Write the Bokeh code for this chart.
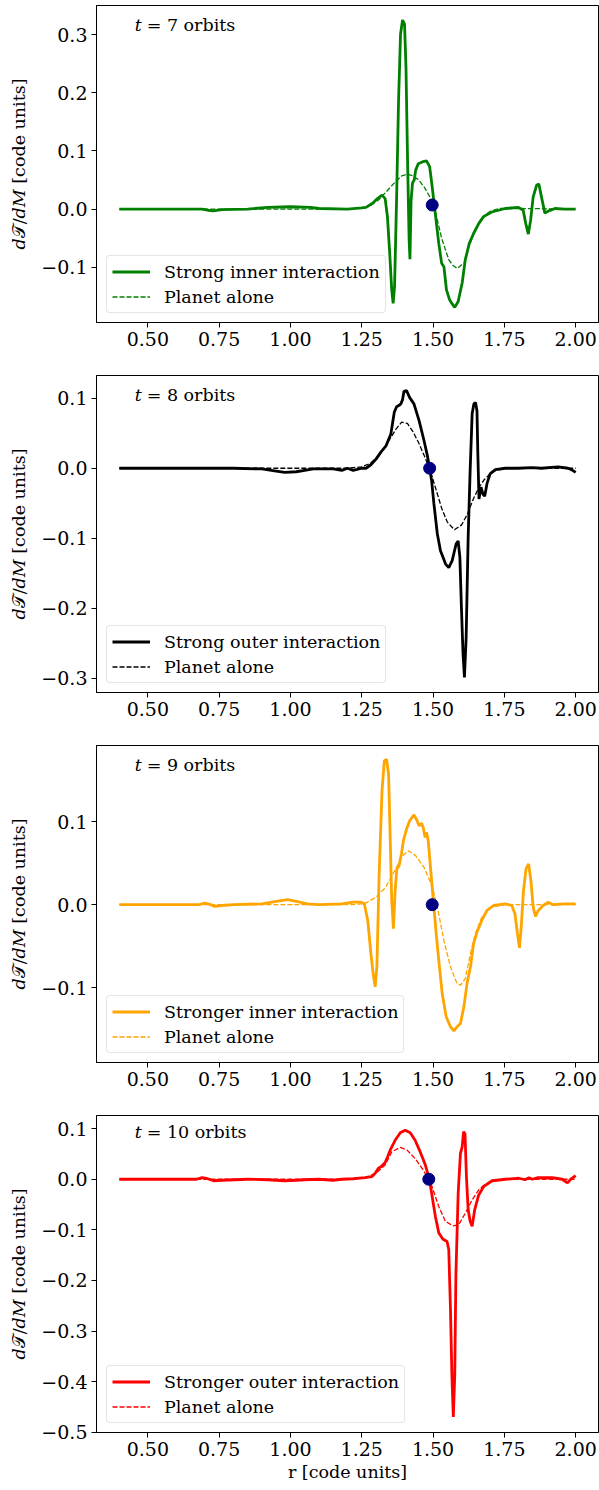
import numpy as np
from bokeh.plotting import figure
from bokeh.layouts import column
from bokeh.models import (FixedTicker, CustomJSTickFormatter, Legend, LegendItem,
                          Label, Range1d)
from bokeh.embed import file_html
from bokeh.resources import INLINE

FONT = "DejaVu Serif"

# ---------------- data ----------------
r_lo, r_hi = 0.32, 2.08
x_ticks = [0.5, 0.75, 1.0, 1.25, 1.5, 1.75, 2.0]

# t = 7 orbits : strong inner interaction
r7 = [0.40, 0.50, 0.60, 0.69, 0.71, 0.73, 0.76, 0.85, 0.92, 1.00, 1.07, 1.10, 1.20, 1.25,
      1.265, 1.288, 1.305, 1.321, 1.332, 1.340, 1.348, 1.355, 1.360, 1.365, 1.372, 1.379,
      1.386, 1.393, 1.400, 1.405, 1.411, 1.416, 1.419, 1.423, 1.428, 1.434, 1.439, 1.448,
      1.462, 1.477, 1.488, 1.497, 1.509, 1.520, 1.530, 1.538, 1.547, 1.558, 1.567, 1.576,
      1.588, 1.602, 1.613, 1.627, 1.642, 1.660, 1.677, 1.706, 1.753, 1.799, 1.816, 1.825,
      1.834, 1.842, 1.851, 1.863, 1.871, 1.880, 1.892, 1.906, 1.927, 1.962, 2.000]
dT7 = [0.000, 0.000, 0.000, 0.000, -0.002, -0.003, -0.001, 0.000, 0.003, 0.004, 0.003, 0.001, 0.000, 0.002,
       0.003, 0.010, 0.018, 0.024, 0.018, -0.013, -0.076, -0.139, -0.162, -0.133, 0.015, 0.187,
       0.301, 0.325, 0.318, 0.244, 0.073, -0.053, -0.086, 0.015, 0.045, 0.050, 0.067, 0.078,
       0.081, 0.083, 0.073, 0.038, -0.013, -0.059, -0.093, -0.099, -0.139, -0.156, -0.163, -0.169,
       -0.159, -0.127, -0.087, -0.059, -0.042, -0.025, -0.013, -0.005, 0.001, 0.003, -0.002, -0.025,
       -0.043, -0.019, 0.021, 0.041, 0.043, 0.021, -0.007, -0.003, 0.001, 0.000, 0.000]
rp7 = [0.40, 1.20, 1.25, 1.28, 1.31, 1.34, 1.37, 1.39, 1.41, 1.43, 1.45, 1.47, 1.49, 1.51,
       1.53, 1.555, 1.57, 1.585, 1.61, 1.625, 1.648, 1.665, 1.683, 1.70, 1.73, 1.80, 2.00]
pa7 = [0.0, 0.0, 0.002, 0.006, 0.016, 0.032, 0.048, 0.057, 0.060, 0.057, 0.050, 0.037, 0.020, -0.008,
       -0.050, -0.087, -0.097, -0.102, -0.092, -0.065, -0.036, -0.020, -0.010, -0.004, 0.001, 0.001, 0.0]

# t = 8 orbits : strong outer interaction
r8 = [0.40, 0.60, 0.80, 0.90, 0.95, 0.98, 1.02, 1.05, 1.08, 1.15, 1.18, 1.20, 1.22, 1.25,
      1.265, 1.282, 1.300, 1.317, 1.335, 1.352, 1.364, 1.372, 1.381, 1.387, 1.393, 1.398,
      1.407, 1.418, 1.433, 1.451, 1.468, 1.480, 1.488, 1.495, 1.503, 1.515, 1.526, 1.544,
      1.555, 1.567, 1.581, 1.588, 1.594, 1.599, 1.605, 1.610, 1.616, 1.623, 1.630, 1.637,
      1.643, 1.649, 1.654, 1.657, 1.661, 1.668, 1.675, 1.681, 1.689, 1.700, 1.718, 1.753,
      1.799, 1.846, 1.880, 1.939, 1.973, 1.985, 2.000]
dT8 = [0.000, 0.000, 0.000, -0.001, -0.004, -0.006, -0.005, -0.003, -0.001, -0.001, -0.003, 0.000, -0.003, 0.000,
       0.000, 0.005, 0.013, 0.023, 0.032, 0.049, 0.080, 0.088, 0.090, 0.092, 0.098, 0.110,
       0.111, 0.101, 0.092, 0.068, 0.040, 0.018, 0.000, -0.018, -0.051, -0.094, -0.118, -0.137,
       -0.142, -0.132, -0.108, -0.104, -0.127, -0.194, -0.265, -0.299, -0.242, -0.099, -0.003, 0.078,
       0.092, 0.094, 0.082, 0.020, -0.044, -0.027, -0.037, -0.040, -0.022, -0.008, -0.002, 0.000,
       0.000, 0.001, 0.000, 0.002, 0.000, -0.002, -0.006]
rp8 = [0.40, 1.20, 1.25, 1.28, 1.31, 1.34, 1.37, 1.39, 1.41, 1.43, 1.45, 1.47, 1.49, 1.51,
       1.53, 1.55, 1.575, 1.60, 1.62, 1.64, 1.66, 1.68, 1.70, 1.72, 1.76, 2.00]
pa8 = [0.0, 0.0, 0.002, 0.007, 0.018, 0.036, 0.056, 0.066, 0.064, 0.052, 0.036, 0.017, -0.003, -0.030,
       -0.057, -0.077, -0.088, -0.081, -0.066, -0.045, -0.028, -0.016, -0.008, -0.003, 0.0, 0.0]

# t = 9 orbits : stronger inner interaction
r9 = [0.40, 0.60, 0.68, 0.70, 0.72, 0.735, 0.76, 0.80, 0.90, 0.95, 0.99, 1.02, 1.06, 1.10, 1.18, 1.22,
      1.247, 1.259, 1.271, 1.282, 1.290, 1.297, 1.303, 1.311, 1.321, 1.329, 1.337, 1.344,
      1.350, 1.355, 1.361, 1.367, 1.373, 1.381, 1.389, 1.396, 1.407, 1.418, 1.433, 1.443,
      1.451, 1.460, 1.466, 1.472, 1.477, 1.483, 1.491, 1.501, 1.511, 1.520, 1.532, 1.546,
      1.561, 1.573, 1.584, 1.596, 1.608, 1.619, 1.631, 1.642, 1.654, 1.671, 1.689, 1.712,
      1.753, 1.776, 1.787, 1.796, 1.803, 1.809, 1.817, 1.826, 1.835, 1.843, 1.851, 1.859,
      1.869, 1.886, 1.904, 1.921, 1.962, 2.000]
dT9 = [0.000, 0.000, 0.000, 0.002, 0.000, -0.002, -0.001, 0.000, 0.001, 0.004, 0.006, 0.004, 0.001, 0.000, 0.001, 0.003,
       0.003, 0.001, -0.019, -0.059, -0.083, -0.099, -0.075, 0.037, 0.137, 0.173, 0.175, 0.157,
       0.077, 0.005, -0.029, 0.017, 0.043, 0.047, 0.061, 0.077, 0.091, 0.101, 0.108, 0.102,
       0.095, 0.098, 0.092, 0.081, 0.087, 0.077, 0.045, 0.005, -0.035, -0.067, -0.107, -0.135,
       -0.147, -0.152, -0.147, -0.143, -0.123, -0.095, -0.075, -0.047, -0.033, -0.019, -0.007, -0.001,
       0.001, -0.001, -0.011, -0.035, -0.052, -0.027, 0.017, 0.043, 0.049, 0.029, -0.003, -0.014,
       -0.007, -0.001, 0.003, 0.000, 0.001, 0.001]
rp9 = [0.40, 1.20, 1.259, 1.30, 1.334, 1.369, 1.393, 1.414, 1.439, 1.468, 1.497, 1.515, 1.538,
       1.561, 1.584, 1.596, 1.613, 1.631, 1.648, 1.671, 1.706, 1.75, 2.00]
pa9 = [0.0, 0.0, 0.001, 0.009, 0.021, 0.043, 0.059, 0.065, 0.059, 0.045, 0.022, -0.003, -0.043,
       -0.075, -0.095, -0.097, -0.089, -0.059, -0.035, -0.015, -0.003, 0.0, 0.0]

# t = 10 orbits : stronger outer interaction
r10 = [0.40, 0.60, 0.67, 0.69, 0.71, 0.73, 0.76, 0.85, 0.92, 0.98, 1.02, 1.05, 1.10, 1.15, 1.18, 1.22,
       1.262, 1.285, 1.297, 1.309, 1.320, 1.332, 1.341, 1.350, 1.367, 1.385, 1.402, 1.420,
       1.437, 1.455, 1.473, 1.487, 1.496, 1.508, 1.520, 1.534, 1.549, 1.555, 1.561, 1.566,
       1.571, 1.576, 1.580, 1.588, 1.596, 1.602, 1.607, 1.612, 1.617, 1.623, 1.630, 1.637,
       1.646, 1.660, 1.678, 1.707, 1.754, 1.801, 1.822, 1.836, 1.848, 1.865, 1.918, 1.953,
       1.971, 1.983, 2.000]
dT10 = [0.000, 0.000, 0.000, 0.003, 0.001, -0.003, -0.002, 0.000, -0.001, -0.003, -0.002, -0.001, 0.000, -0.002, 0.000, 0.001,
        0.003, 0.005, 0.012, 0.022, 0.026, 0.033, 0.045, 0.058, 0.077, 0.092, 0.097, 0.092,
        0.077, 0.054, 0.028, 0.000, -0.031, -0.073, -0.106, -0.118, -0.123, -0.139, -0.257, -0.388,
        -0.470, -0.388, -0.191, -0.028, 0.051, 0.064, 0.094, 0.090, 0.005, -0.060, -0.083, -0.093,
        -0.060, -0.031, -0.014, -0.003, 0.000, 0.002, -0.001, 0.003, 0.000, 0.003, 0.003, 0.000,
        -0.007, 0.000, 0.007]
rp10 = [0.40, 1.20, 1.26, 1.30, 1.332, 1.355, 1.385, 1.408, 1.437, 1.466, 1.496, 1.520, 1.543,
        1.569, 1.590, 1.613, 1.637, 1.660, 1.684, 1.719, 1.76, 2.00]
pa10 = [0.0, 0.0, 0.003, 0.012, 0.028, 0.054, 0.063, 0.058, 0.041, 0.018, -0.014, -0.054, -0.083,
        -0.092, -0.090, -0.067, -0.041, -0.021, -0.009, -0.003, 0.0, 0.0]

# planet position markers
planet_r = [1.497, 1.488, 1.497, 1.485]
planet_dT = [0.007, 0.0, 0.0, 0.0]

orbits = ["7", "8", "9", "10"]
labels = ["Strong inner interaction", "Strong outer interaction",
          "Stronger inner interaction", "Stronger outer interaction"]
colors = ["#008000", "#000000", "#ffa500", "#ff0000"]
y_limits = [(-0.195, 0.35), (-0.3206, 0.1326), (-0.190, 0.1916), (-0.5006, 0.126)]
y_ticks = [[-0.1, 0.0, 0.1, 0.2, 0.3],
           [-0.3, -0.2, -0.1, 0.0, 0.1],
           [-0.1, 0.0, 0.1],
           [-0.5, -0.4, -0.3, -0.2, -0.1, 0.0, 0.1]]
title_frac = [0.921, 0.921, 0.921, 0.928]

solid_r = [r7, r8, r9, r10]
solid_v = [dT7, dT8, dT9, dT10]
alone_r = [rp7, rp8, rp9, rp10]
alone_v = [pa7, pa8, pa9, pa10]

yfmt = CustomJSTickFormatter(code="""
    var s = Math.abs(tick).toFixed(1);
    return (tick < -1e-9 ? '\u2212' : '') + s;
""")
xfmt = CustomJSTickFormatter(code="return tick.toFixed(2);")


def make_panel(i, last):
    h = 380 if last else 370
    ylo, yhi = y_limits[i]
    p = figure(width=599, height=h, x_range=Range1d(r_lo, r_hi), y_range=Range1d(ylo, yhi),
               output_backend="svg", toolbar_location=None,
               min_border_left=96, min_border_right=1, min_border_top=5,
               min_border_bottom=h - 5 - 317)
    p.grid.visible = False
    p.outline_line_color = "black"
    p.outline_line_width = 1
    p.outline_line_alpha = 1
    p.background_fill_color = "white"
    p.border_fill_color = "white"

    for ax in (p.xaxis[0], p.yaxis[0]):
        ax.axis_line_color = "black"
        ax.axis_line_width = 1
        ax.major_tick_line_color = "black"
        ax.major_tick_line_width = 1
        ax.major_tick_out = 5
        ax.major_tick_in = 0
        ax.minor_tick_out = 0
        ax.minor_tick_in = 0
        ax.major_label_text_font = FONT
        ax.major_label_text_font_size = "19px"
        ax.major_label_text_color = "black"
        ax.major_label_standoff = 4
        ax.axis_label_text_font = FONT
        ax.axis_label_text_font_size = "17.5px"
        ax.axis_label_text_font_style = "normal"
        ax.axis_label_text_color = "black"

    p.xaxis[0].ticker = FixedTicker(ticks=x_ticks)
    p.xaxis[0].formatter = xfmt
    p.yaxis[0].ticker = FixedTicker(ticks=y_ticks[i])
    p.yaxis[0].formatter = yfmt
    p.yaxis[0].axis_label = "\U0001D451\U0001D4AF/\U0001D451\U0001D440 [code units]"
    p.yaxis[0].axis_label_standoff = 9
    if last:
        p.xaxis[0].axis_label = "r [code units]"
        p.xaxis[0].axis_label_standoff = 3

    c = colors[i]
    rs = p.line(solid_r[i], solid_v[i], line_color=c, line_width=2.8)
    rd = p.line(alone_r[i], alone_v[i], line_color=c, line_width=1.3, line_dash="5 2")
    p.scatter([planet_r[i]], [planet_dT[i]], size=12, fill_color="navy", line_color="navy")

    leg = Legend(items=[LegendItem(label=labels[i], renderers=[rs]),
                        LegendItem(label="Planet alone", renderers=[rd])],
                 location=(10, 9))
    leg.label_text_font = FONT
    leg.label_text_font_size = "17.5px"
    leg.label_text_color = "black"
    leg.glyph_width = 38
    leg.glyph_height = 21
    leg.label_height = 21
    leg.label_standoff = 14
    leg.spacing = 4
    leg.padding = 5
    leg.margin = 0
    leg.border_line_color = "#cccccc"
    leg.border_line_width = 1
    leg.background_fill_color = "white"
    leg.background_fill_alpha = 0.8
    if "border_radius" in leg.properties():
        leg.border_radius = 4
    p.add_layout(leg)

    tx = r_lo + 0.076 * (r_hi - r_lo)
    ty = ylo + title_frac[i] * (yhi - ylo)
    p.add_layout(Label(x=tx, y=ty, y_offset=6, text="t", text_font=FONT, text_font_style="italic",
                       text_font_size="17.5px", text_baseline="alphabetic", text_color="black"))
    p.add_layout(Label(x=tx, y=ty, x_offset=12, y_offset=6, text="= " + orbits[i] + " orbits",
                       text_font=FONT, text_font_size="17.5px",
                       text_baseline="alphabetic", text_color="black"))
    return p


panels = [make_panel(i, i == 3) for i in range(4)]
layout = column(*panels, spacing=0)

open("out.html", "w").write(file_html(layout, INLINE))
